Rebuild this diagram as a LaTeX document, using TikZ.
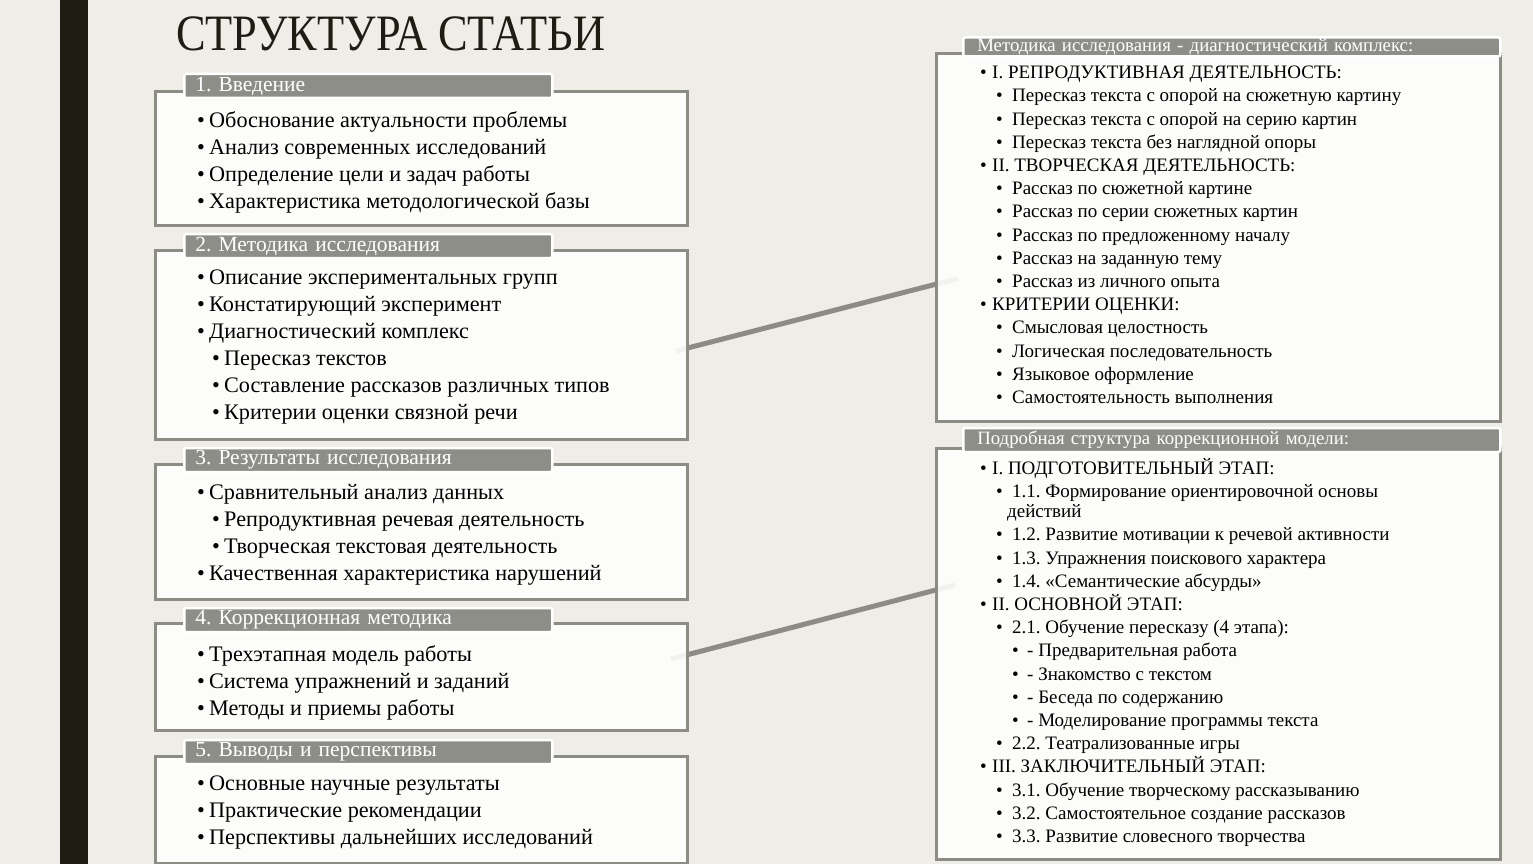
\documentclass[tikz,border=0pt]{standalone}
\usepackage{fontspec}
\setmainfont{Liberation Serif}
\newfontfamily\titlefont[FakeStretch=0.87]{Liberation Serif}
\usetikzlibrary{positioning,backgrounds}
\definecolor{SlideBg}{RGB}{238,237,231}
\definecolor{SlideBar}{RGB}{29,29,19}
\definecolor{FrameGray}{RGB}{140,140,133}
\definecolor{TabGray}{RGB}{142,142,137}
\definecolor{PaperWhite}{RGB}{254,254,253}
\frenchspacing
% bullets for the two kinds of lists
\newcommand{\lA}{\makebox[12pt][l]{\textbullet}}
\newcommand{\lB}{\hspace*{15pt}\makebox[12pt][l]{\textbullet}}
\newcommand{\rA}{\makebox[12pt][l]{\textbullet}}
\newcommand{\rB}{\hspace*{16pt}\makebox[16pt][l]{\textbullet}}
\newcommand{\rC}{\hspace*{32pt}\makebox[15pt][l]{\textbullet}}

\begin{document}
\begin{tikzpicture}[x=1pt,y=-1pt,
    secbox/.style={draw=FrameGray,fill=PaperWhite,fill opacity=0.9,text opacity=1,
                   line width=3pt,anchor=north west,inner sep=0pt,minimum width=532pt},
    sidebox/.style={secbox,minimum width=564pt},
    sectab/.style={fill=TabGray,draw=white,line width=2.5pt,rounded corners=2pt,
                   text=white,font=\fontsize{21.5}{22}\selectfont,align=left,
                   minimum height=24pt,inner ysep=0pt,inner xsep=11pt,text width=346pt},
    sidetab/.style={sectab,font=\fontsize{18.8}{19}\selectfont,inner xsep=14pt,text width=509pt},
    seclist/.style={anchor=north west,inner sep=0pt,align=left,text=black,
                    font=\fontsize{22.2}{27}\selectfont},
    sidelist/.style={seclist,font=\fontsize{19}{23.2}\selectfont},
    link/.style={FrameGray,line width=5pt}
  ]
    \useasboundingbox (0,0) rectangle (1533,864);
    \node[anchor=base west,inner sep=0pt,font=\titlefont\fontsize{51}{51}\selectfont,text=SlideBar]
      (title) at (176,51) {СТРУКТУРА СТАТЬИ};

    % left column: sections of the article
    \node[secbox,minimum height=134pt] (intro) at (154,90) {};
    \node[secbox,minimum height=189pt] (method) at (154,249) {};
    \node[secbox,minimum height=135pt] (result) at (154,463) {};
    \node[secbox,minimum height=107pt] (correct) at (154,622) {};
    \node[secbox,minimum height=107pt] (summary) at (154,755) {};

    \node[sectab,right=29pt of intro.north west,yshift=4pt] (introtab) {1. Введение};
    \node[sectab,right=29pt of method.north west,yshift=3pt] (methodtab) {2. Методика исследования};
    \node[sectab,right=29pt of result.north west,yshift=3pt] (resulttab) {3. Результаты исследования};
    \node[sectab,right=29pt of correct.north west,yshift=2pt] (correcttab) {4. Коррекционная методика};
    \node[sectab,right=29pt of summary.north west,yshift=3pt] (summarytab) {5. Выводы и перспективы};

    \node[seclist,below right=21pt and 43pt of intro.north west] (introtxt)
      {\lA Обоснование актуальности проблемы\\ \lA Анализ современных исследований\\
       \lA Определение цели и задач работы\\ \lA Характеристика методологической базы};
    \node[seclist,below right=21pt and 43pt of method.north west] (methodtxt)
      {\lA Описание экспериментальных групп\\ \lA Констатирующий эксперимент\\
       \lA Диагностический комплекс\\ \lB Пересказ текстов\\
       \lB Составление рассказов различных типов\\ \lB Критерии оценки связной речи};
    \node[seclist,below right=21pt and 43pt of result.north west] (resulttxt)
      {\lA Сравнительный анализ данных\\ \lB Репродуктивная речевая деятельность\\
       \lB Творческая текстовая деятельность\\ \lA Качественная характеристика нарушений};
    \node[seclist,below right=23pt and 43pt of correct.north west] (correcttxt)
      {\lA Трехэтапная модель работы\\ \lA Система упражнений и заданий\\
       \lA Методы и приемы работы};
    \node[seclist,below right=21pt and 43pt of summary.north west] (summarytxt)
      {\lA Основные научные результаты\\ \lA Практические рекомендации\\
       \lA Перспективы дальнейших исследований};

    % right column: details
    \node[sidebox,minimum height=368pt] (diag) at (935,52) {};
    \node[sidebox,minimum height=411pt] (model) at (935,447) {};

    \node[sidetab,right=27pt of diag.north west,yshift=5pt,minimum height=19pt] (diagtab)
      {Методика исследования - диагностический комплекс:};
    \node[sidetab,right=27pt of model.north west,yshift=7pt] (modeltab)
      {Подробная структура коррекционной модели:};

    \node[sidelist,below right=14pt and 45pt of diag.north west] (diagtxt)
      {\rA I. РЕПРОДУКТИВНАЯ ДЕЯТЕЛЬНОСТЬ:\\
       \rB Пересказ текста с опорой на сюжетную картину\\
       \rB Пересказ текста с опорой на серию картин\\
       \rB Пересказ текста без наглядной опоры\\
       \rA II. ТВОРЧЕСКАЯ ДЕЯТЕЛЬНОСТЬ:\\
       \rB Рассказ по сюжетной картине\\
       \rB Рассказ по серии сюжетных картин\\
       \rB Рассказ по предложенному началу\\
       \rB Рассказ на заданную тему\\
       \rB Рассказ из личного опыта\\
       \rA КРИТЕРИИ ОЦЕНКИ:\\
       \rB Смысловая целостность\\
       \rB Логическая последовательность\\
       \rB Языковое оформление\\
       \rB Самостоятельность выполнения};
    \node[sidelist,below right=11pt and 45pt of model.north west] (modeltxt)
      {\rA I. ПОДГОТОВИТЕЛЬНЫЙ ЭТАП:\\
       \rB 1.1. Формирование ориентировочной основы\\[-3pt]
       \hspace*{27pt}действий\\
       \rB 1.2. Развитие мотивации к речевой активности\\
       \rB 1.3. Упражнения поискового характера\\
       \rB 1.4. «Семантические абсурды»\\
       \rA II. ОСНОВНОЙ ЭТАП:\\
       \rB 2.1. Обучение пересказу (4 этапа):\\
       \rC - Предварительная работа\\
       \rC - Знакомство с текстом\\
       \rC - Беседа по содержанию\\
       \rC - Моделирование программы текста\\
       \rB 2.2. Театрализованные игры\\
       \rA III. ЗАКЛЮЧИТЕЛЬНЫЙ ЭТАП:\\
       \rB 3.1. Обучение творческому рассказыванию\\
       \rB 3.2. Самостоятельное создание рассказов\\
       \rB 3.3. Развитие словесного творчества};

    \coordinate (methodend) at ([shift={(-13pt,-6pt)}]method.east);
    \coordinate (diagend) at ([shift={(23pt,-41pt)}]diag.west);
    \coordinate (correctend) at ([shift={(-18pt,18pt)}]correct.east);
    \coordinate (modelend) at ([shift={(20pt,69pt)}]model.west);
    \begin{scope}[on background layer]
      \fill[SlideBg] (0,0) rectangle (1533,864);
      \fill[SlideBar] (60,0) rectangle (88,864);
      \draw[link] (methodend) -- (diagend);
      \draw[link] (correctend) -- (modelend);
    \end{scope}
  \end{tikzpicture}
\end{document}
